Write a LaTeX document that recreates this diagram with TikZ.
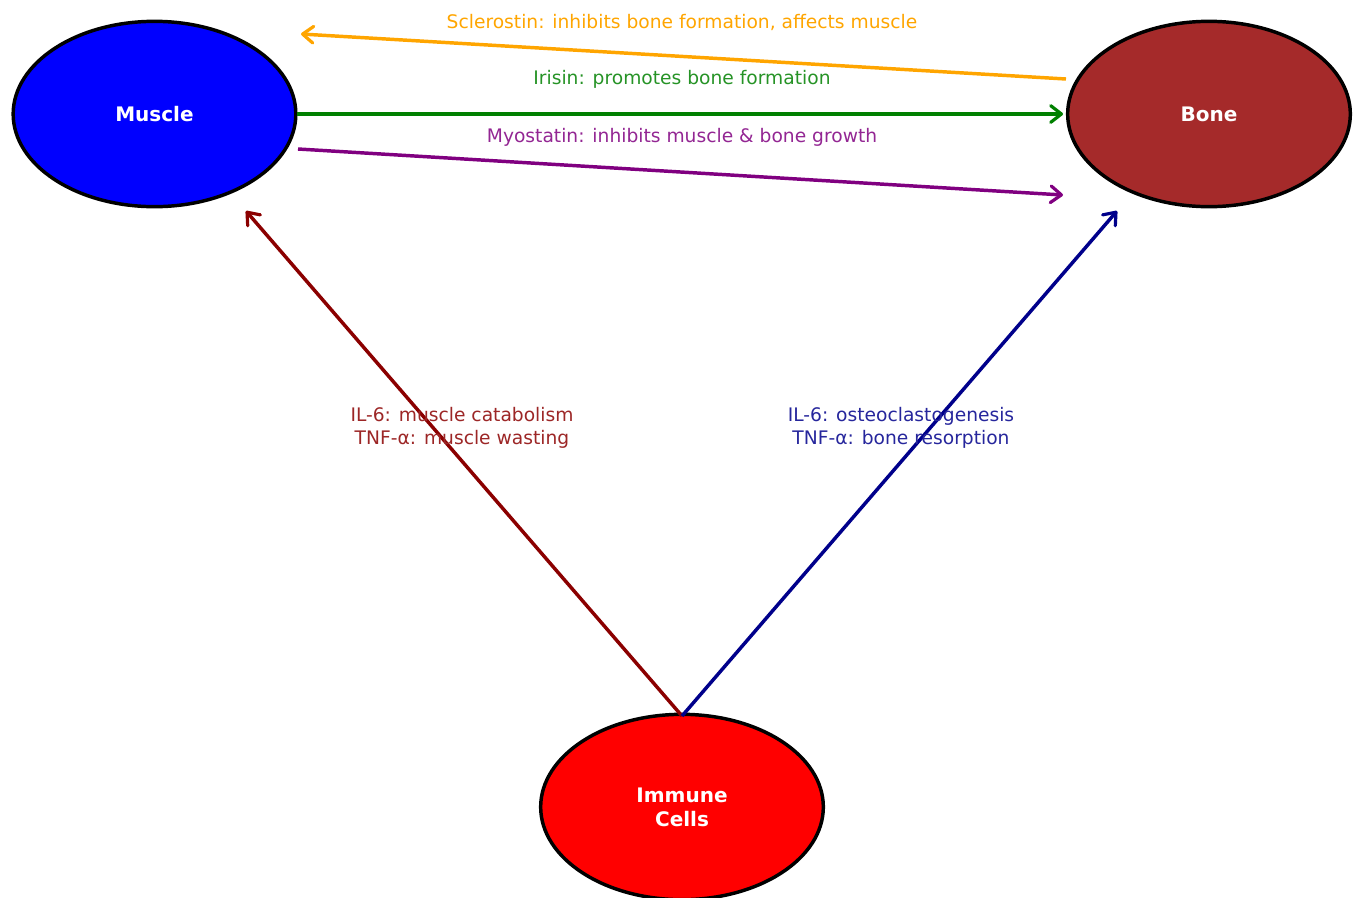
\documentclass[tikz,border=0pt]{standalone}
\usepackage{fontspec}
\setmainfont{DejaVu Sans}
\usetikzlibrary{arrows.meta,shapes.geometric}
\definecolor{cMuscle}{HTML}{0000FF}
\definecolor{cBone}{HTML}{A52A2A}
\definecolor{cImmune}{HTML}{FF0000}
\definecolor{cOrange}{HTML}{FFA500}
\definecolor{cGreen}{HTML}{008000}
\definecolor{cPurple}{HTML}{800080}
\definecolor{cDarkRed}{HTML}{8B0000}
\definecolor{cNavy}{HTML}{00008B}
\tikzset{
  organ/.style={ellipse, draw=black, line width=2.6pt, minimum width=212pt, minimum height=139pt, inner sep=0pt, text=white, font=\fontsize{15}{18}\selectfont\bfseries, align=center},
  link/.style={line width=2.6pt, -{Straight Barb[length=8pt,width=12.5pt,line width=2.4pt,round]}},
  lab/.style={font=\fontsize{14}{17.2}\selectfont, align=center, inner sep=0pt},
}
\begin{document}
\begin{tikzpicture}[x=0.75pt,y=-0.75pt]
\useasboundingbox (0,0) rectangle (1354,897);
\node[organ, fill=cMuscle] (muscle) at (154.5,114) {Muscle};
\node[organ, fill=cBone] (bone) at (1209,114) {Bone};
\node[organ, fill=cImmune] (immune) at (682,807) {Immune\\Cells};
\coordinate (sclS) at (1066,79);
\coordinate (sclE) at (301,34);
\coordinate (irS) at (297,114);
\coordinate (irE) at (1063,114);
\coordinate (myS) at (298,149);
\coordinate (myE) at (1063,195);
\coordinate (imTop) at (682,716);
\coordinate (muE) at (246,211);
\coordinate (boE) at (1117,211);
\draw[link, cOrange] (sclS) -- (sclE);
\draw[link, cGreen] (irS) -- (irE);
\draw[link, cPurple] (myS) -- (myE);
\draw[link, cDarkRed] (imTop) -- (muE);
\draw[link, cNavy] (imTop) -- (boE);
\node[lab, text=cOrange] (lscl) at (682,22) {Sclerostin: inhibits bone formation, affects muscle};
\node[lab, text=cGreen!85!white] (lir) at (682,79) {Irisin: promotes bone formation};
\node[lab, text=cPurple!85!white] (lmy) at (682,137) {Myostatin: inhibits muscle \& bone growth};
\node[lab, text=cDarkRed!85!white] (lmu) at (462,428) {IL-6: muscle catabolism\\TNF-α: muscle wasting};
\node[lab, text=cNavy!85!white] (lbo) at (901,428) {IL-6: osteoclastogenesis\\TNF-α: bone resorption};
\end{tikzpicture}
\end{document}
